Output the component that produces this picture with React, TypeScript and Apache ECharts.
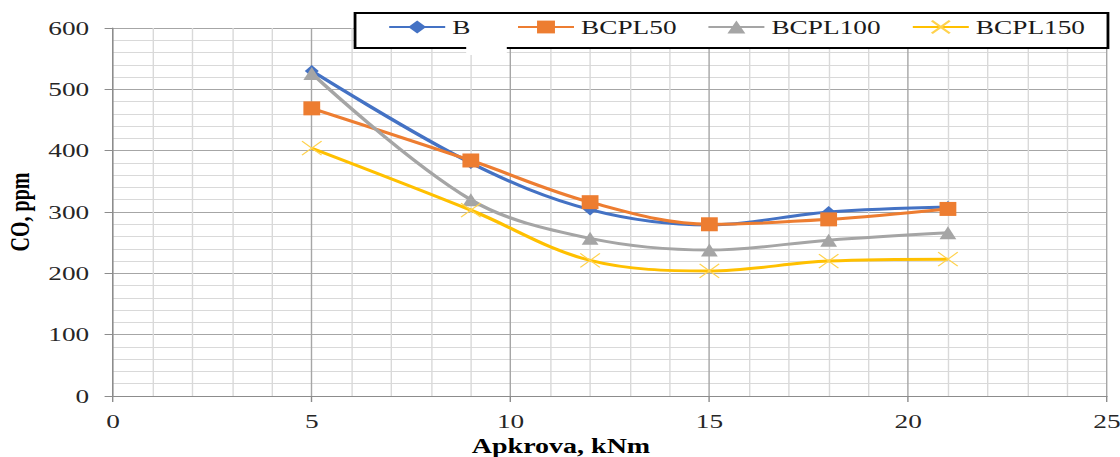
import React, { useEffect, useRef } from "react";
import * as echarts from "echarts";

const loadKNm = [5, 9, 12, 15, 18, 21];
const coB = [530, 380, 304, 279, 300, 308];
const coBCPL50 = [469, 384, 316, 280, 288, 305];
const coBCPL100 = [526, 320, 257, 238, 254, 266];
const coBCPL150 = [404, 303, 221, 204, 220, 223];
const seriesNames = ["B", "BCPL50", "BCPL100", "BCPL150"];
const xTitle = "Apkrova, kNm";
const yTitle = "CO, ppm";

const STRETCH = 1.4;
const W = 1120 / STRETCH;
const H = 457;
const FONT = "'Liberation Serif', 'Times New Roman', serif";

export default function App() {
  const ref = useRef<HTMLDivElement>(null);
  useEffect(() => {
    if (!ref.current) return;
    const chart = echarts.init(ref.current, null, { renderer: "svg" });
    const pts = (vals: number[]) => loadKNm.map((x, i) => [x, vals[i]]);
    const colors = ["#4472C4", "#ED7D31", "#A5A5A5", "#FFC000"];
    const symbols = ["diamond", "rect", "triangle", "path://M0,0L10,10M10,0L0,10"];
    const sizes: any[] = [[10, 12], [12, 14], [12, 13], [14, 14]];
    const data = [coB, coBCPL50, coBCPL100, coBCPL150];
    const legendLefts = [277, 369, 505, 651];
    chart.setOption({
      animation: false,
      backgroundColor: "#ffffff",
      grid: {
        left: 80.7,
        right: W - 790.7,
        top: 28,
        bottom: 61,
        containLabel: false,
        outerBoundsMode: "none",
      },
      xAxis: {
        type: "value",
        min: 0,
        max: 25,
        interval: 5,
        name: xTitle,
        nameLocation: "middle",
        nameGap: 38,
        nameTextStyle: {
          fontFamily: FONT,
          fontWeight: "bold",
          fontSize: 20,
          color: "#000",
          padding: [0, 70, 0, 0],
        },
        axisLine: { show: true, lineStyle: { color: "#8C8C8C", width: 1 } },
        axisTick: { show: true, length: 6, lineStyle: { color: "#8C8C8C" } },
        axisLabel: { margin: 15, fontFamily: FONT, fontSize: 19.5, color: "#262626" },
        splitLine: { show: true, lineStyle: { color: "#A6A6A6", width: 1 } },
        minorTick: { show: false, splitNumber: 5 },
        minorSplitLine: { show: true, lineStyle: { color: "#D9D9D9", width: 1 } },
      },
      yAxis: {
        type: "value",
        min: 0,
        max: 600,
        interval: 100,
        name: yTitle,
        nameLocation: "middle",
        nameRotate: 90,
        nameGap: 46,
        nameTextStyle: { fontFamily: FONT, fontWeight: "bold", fontSize: 20, color: "#000" },
        axisLine: { show: true, lineStyle: { color: "#8C8C8C", width: 1 } },
        axisTick: { show: true, length: 6, lineStyle: { color: "#8C8C8C" } },
        axisLabel: { margin: 17, fontFamily: FONT, fontSize: 19.5, color: "#262626" },
        splitLine: { show: true, lineStyle: { color: "#A6A6A6", width: 1 } },
        minorTick: { show: false, splitNumber: 5 },
        minorSplitLine: { show: true, lineStyle: { color: "#D9D9D9", width: 1 } },
      },
      legend: seriesNames.map((n, i) => ({
        data: [n],
        left: legendLefts[i],
        top: 17,
        padding: 0,
        itemWidth: 40,
        itemHeight: 16,
        z: 6,
        textStyle: { fontFamily: FONT, fontSize: 19.5, color: "#1a1a1a" },
      })),
      graphic: [
        {
          type: "rect",
          z: 5,
          shape: { x: 253.6, y: 13, width: 537.8, height: 35 },
          style: { fill: "#ffffff", stroke: "#000000", lineWidth: 2 },
        },
        {
          type: "rect",
          z: 7,
          shape: { x: 333, y: 46, width: 29, height: 9 },
          style: { fill: "#ffffff" },
        },
      ],
      series: seriesNames.map((n, i) => ({
        name: n,
        type: "line",
        data: pts(data[i]),
        smooth: 0.35,
        color: colors[i],
        symbol: symbols[i],
        symbolSize: sizes[i],
        showSymbol: true,
        lineStyle: { width: 3, color: colors[i] },
        itemStyle:
          i === 3
            ? { color: colors[i], borderColor: "#FFD24D", borderWidth: 1 }
            : { color: colors[i] },
        z: 2 + i * 0.1,
      })),
    });
    return () => chart.dispose();
  }, []);
  return (
    <div
      ref={ref}
      style={{
        position: "fixed",
        left: 0,
        top: 0,
        width: W,
        height: H,
        transform: `scaleX(${STRETCH})`,
        transformOrigin: "0 0",
      }}
    />
  );
}
